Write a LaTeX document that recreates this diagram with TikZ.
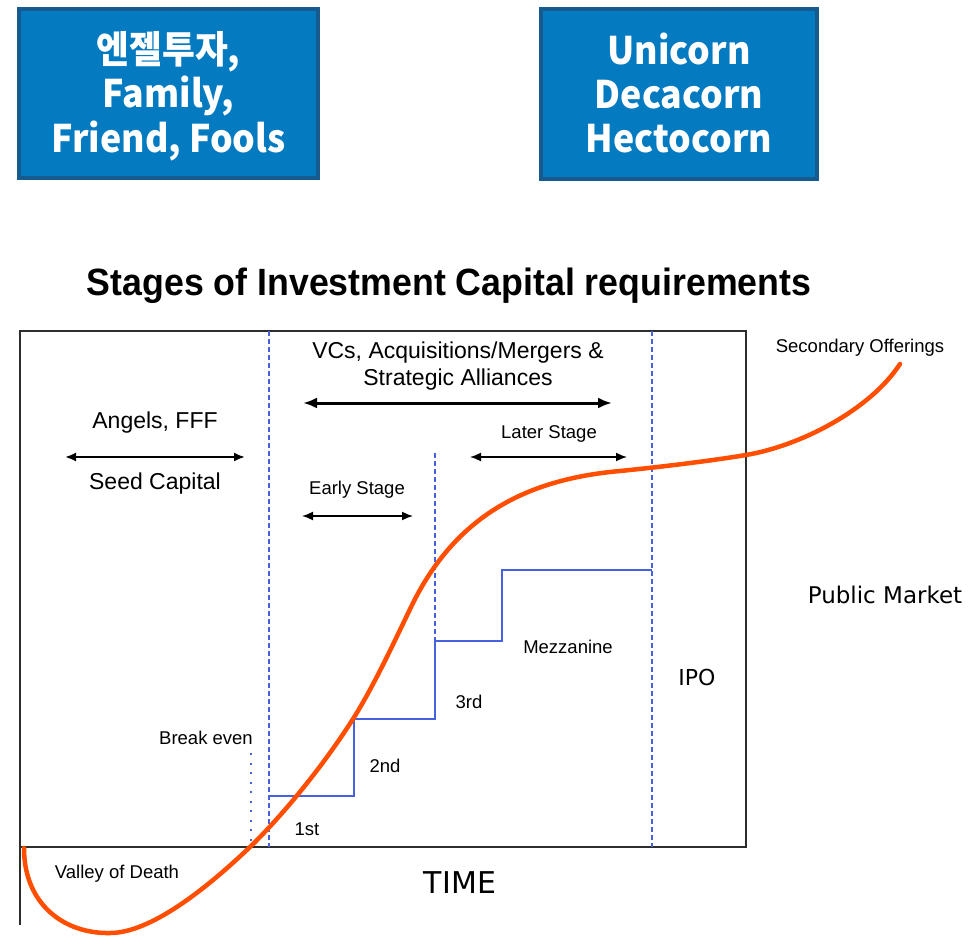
\documentclass[tikz,border=0pt]{standalone}
\usepackage{fontspec}
\setmainfont{Liberation Sans}
\newfontfamily\boxfont{Noto Sans CJK KR}
\newfontfamily\plainfont{DejaVu Sans}
\usetikzlibrary{arrows.meta}

\definecolor{boxfill}{RGB}{4,122,193}
\definecolor{boxline}{RGB}{22,90,142}
\definecolor{stepblue}{RGB}{70,98,222}
\definecolor{curveorange}{RGB}{255,78,0}
\definecolor{framegray}{RGB}{45,45,45}

% narrow stacked lines for the two boxes, set a little low
\newcommand{\boxlines}[1]{\raisebox{-5pt}[\height][\depth]{%
  \scalebox{0.94}[1]{\begin{tabular}{@{}c@{}}#1\end{tabular}}}}

\tikzset{
  fundbox/.style={draw=boxline, line width=4pt, fill=boxfill, text=white,
    inner sep=0pt, font=\boxfont\bfseries\fontsize{38}{44}\selectfont},
  bigtext/.style={align=center, font=\fontsize{23}{27}\selectfont},
  smalltext/.style={font=\fontsize{18.5}{22}\selectfont},
  span/.style={{Latex[length=11pt,width=9pt]}-{Latex[length=11pt,width=9pt]}, line width=2pt},
  border/.style={stepblue, line width=1.5pt, dash pattern=on 5pt off 3pt},
}

\begin{document}
\begin{tikzpicture}[x=1pt, y=-1pt]
  \useasboundingbox (0,0) rectangle (972,936);

% funding boxes
  \node[fundbox, minimum width=299, minimum height=169] (angelbox) at (168.5,93.5)
    {\boxlines{엔젤투자,\\Family,\\Friend, Fools}};
  \node[fundbox, minimum width=276, minimum height=170] (cornbox) at (679,94)
    {\boxlines{Unicorn\\Decacorn\\Hectocorn}};

% title
  \node[font=\bfseries\fontsize{38}{42}\selectfont] (title) at (449,286)
    {\scalebox{0.94}[1]{Stages of Investment Capital requirements}};

% frame and time axis
  \draw[framegray, line width=2pt] (20,925) -- (20,331) -- (746,331) -- (746,847) -- (20,847);

% stage borders
  \draw[border] (269,331) -- (269,847);
  \draw[border] (652,331) -- (652,847);
  \draw[border] (435,453) -- (435,641);
  \draw[stepblue, line width=2pt, dash pattern=on 2pt off 7.5pt] (251,753) -- (251,847);

% funding rounds
  \draw[stepblue, line width=2pt] (269,796) -- (354,796) -- (354,719) -- (435,719)
    -- (435,641) -- (502,641) -- (502,570) -- (652,570);

% growth curve
  \draw[curveorange, line width=4.5pt, line cap=round]
    (24,848) .. controls (24,905) and (65,934) .. (110,933)
             .. controls (150,933) and (205,890) .. (250,847)
             .. controls (285,813) and (325,763) .. (353,719)
             .. controls (375,684) and (395,640) .. (413,603)
             .. controls (458,513) and (530,479) .. (620,471)
             .. controls (660,467) and (710,461) .. (746,455)
             .. controls (800,446) and (870,410) .. (900,364);

% spans
  \coordinate (seedL) at (65,457);   \coordinate (seedR) at (245,457);
  \coordinate (vcL) at (303,403);    \coordinate (vcR) at (612,403);
  \coordinate (earlyL) at (302,516); \coordinate (earlyR) at (413,516);
  \coordinate (laterL) at (470,457); \coordinate (laterR) at (627,457);
  \draw[span] (seedL) -- (seedR);
  \draw[{Latex[length=14pt,width=11pt]}-{Latex[length=14pt,width=11pt]}, line width=3pt] (vcL) -- (vcR);
  \draw[span, line width=1.6pt] (earlyL) -- (earlyR);
  \draw[span, line width=1.6pt] (laterL) -- (laterR);

% labels
  \node[bigtext] (vcs) at (458,366) {VCs, Acquisitions/Mergers \&\\Strategic Alliances};
  \node[bigtext] (angels) at (155,423) {Angels, FFF};
  \node[bigtext] (seed) at (155,484) {Seed Capital};
  \node[smalltext] (early) at (357,490) {Early Stage};
  \node[smalltext] (later) at (549,434) {Later Stage};
  \node[smalltext] (secondary) at (860,348) {Secondary Offerings};
  \node[smalltext] (mezz) at (568,647) {Mezzanine};
  \node[smalltext] (third) at (469,702) {3rd};
  \node[smalltext] (second) at (385,766) {2nd};
  \node[smalltext] (first) at (307,829) {1st};
  \node[smalltext] (breakeven) at (206,738) {Break even};
  \node[smalltext] (valley) at (117,874) {Valley of Death};
  \node[font=\plainfont\fontsize{23}{27}\selectfont] (public) at (885,595) {Public Market};
  \node[font=\plainfont\fontsize{22}{26}\selectfont] (ipo) at (697,677) {IPO};
  \node[font=\plainfont\fontsize{30}{34}\selectfont] (time) at (460,883) {TIME};
\end{tikzpicture}
\end{document}
